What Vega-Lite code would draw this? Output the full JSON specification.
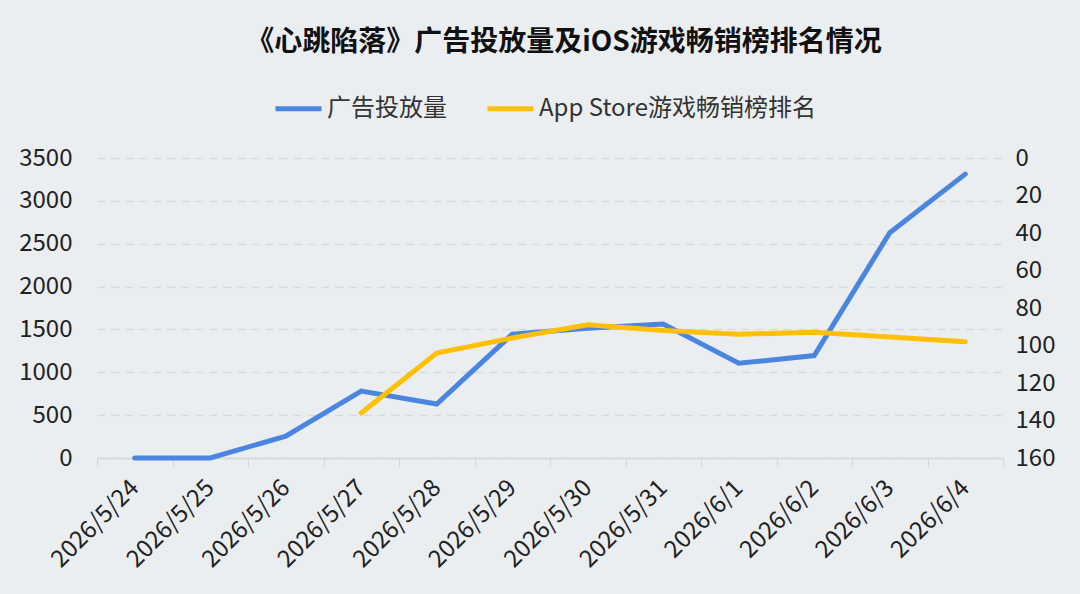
{
  "$schema": "https://vega.github.io/schema/vega-lite/v6.json",
  "width": 906,
  "height": 300,
  "autosize": {"type": "none"},
  "padding": {"left": 97, "top": 158, "right": 77, "bottom": 136},
  "background": "#EBEEF1",
  "title": {
    "text": "《心跳陷落》广告投放量及iOS游戏畅销榜排名情况",
    "font": "Noto Sans CJK SC",
    "fontSize": 28,
    "fontWeight": "bold",
    "color": "#111111",
    "anchor": "middle",
    "dx": 14,
    "offset": 26
  },
  "data": {
    "values": [
      {"date": "2026/5/24", "series": "广告投放量", "value": 0},
      {"date": "2026/5/25", "series": "广告投放量", "value": 0},
      {"date": "2026/5/26", "series": "广告投放量", "value": 255},
      {"date": "2026/5/27", "series": "广告投放量", "value": 780},
      {"date": "2026/5/28", "series": "广告投放量", "value": 630},
      {"date": "2026/5/29", "series": "广告投放量", "value": 1445},
      {"date": "2026/5/30", "series": "广告投放量", "value": 1515},
      {"date": "2026/5/31", "series": "广告投放量", "value": 1562},
      {"date": "2026/6/1", "series": "广告投放量", "value": 1105},
      {"date": "2026/6/2", "series": "广告投放量", "value": 1195},
      {"date": "2026/6/3", "series": "广告投放量", "value": 2628},
      {"date": "2026/6/4", "series": "广告投放量", "value": 3312},
      {"date": "2026/5/27", "series": "App Store游戏畅销榜排名", "value": 136},
      {"date": "2026/5/28", "series": "App Store游戏畅销榜排名", "value": 104},
      {"date": "2026/5/29", "series": "App Store游戏畅销榜排名", "value": 96},
      {"date": "2026/5/30", "series": "App Store游戏畅销榜排名", "value": 89},
      {"date": "2026/5/31", "series": "App Store游戏畅销榜排名", "value": 92},
      {"date": "2026/6/1", "series": "App Store游戏畅销榜排名", "value": 94},
      {"date": "2026/6/2", "series": "App Store游戏畅销榜排名", "value": 93},
      {"date": "2026/6/3", "series": "App Store游戏畅销榜排名", "value": 95.5},
      {"date": "2026/6/4", "series": "App Store游戏畅销榜排名", "value": 98}
    ]
  },
  "encoding": {
    "x": {
      "field": "date",
      "type": "ordinal",
      "sort": null,
      "scale": {"type": "band", "paddingInner": 0, "paddingOuter": 0},
      "axis": {
        "title": null,
        "tickBand": "extent",
        "labelAngle": -45,
        "labelAlign": "right",
        "labelBaseline": "middle",
        "labelFontSize": 24,
        "labelFont": "Noto Sans CJK SC",
        "labelColor": "#222222",
        "labelPadding": 18,
        "tickSize": 8,
        "tickColor": "#D6D6D6",
        "domainColor": "#D6D6D6",
        "domainWidth": 1.5,
        "grid": false
      }
    },
    "color": {
      "field": "series",
      "type": "nominal",
      "scale": {
        "domain": ["广告投放量", "App Store游戏畅销榜排名"],
        "range": ["#4A86E0", "#FFC000"]
      },
      "legend": {
        "title": null,
        "orient": "none",
        "direction": "horizontal",
        "legendX": 176,
        "legendY": -75,
        "symbolType": "stroke",
        "symbolStrokeWidth": 5,
        "symbolSize": 2116,
        "labelFontSize": 24,
        "labelFont": "Noto Sans CJK SC",
        "labelColor": "#333333",
        "labelOffset": 3,
        "labelLimit": 400,
        "columnPadding": 30
      }
    }
  },
  "layer": [
    {
      "transform": [{"filter": "datum.series == '广告投放量'"}],
      "mark": {"type": "line", "strokeWidth": 5, "strokeCap": "round"},
      "encoding": {
        "y": {
          "field": "value",
          "type": "quantitative",
          "scale": {"domain": [0, 3500], "nice": false},
          "axis": {
            "title": null,
            "values": [0, 500, 1000, 1500, 2000, 2500, 3000, 3500],
            "format": "d",
            "labelFontSize": 24,
            "labelFont": "Noto Sans CJK SC",
            "labelColor": "#222222",
            "labelPadding": 25,
            "domain": false,
            "ticks": false,
            "grid": true,
            "gridColor": "#D9D9D9",
            "gridDash": [8, 6],
            "gridWidth": 1.5
          }
        }
      }
    },
    {
      "transform": [{"filter": "datum.series == 'App Store游戏畅销榜排名'"}],
      "mark": {"type": "line", "strokeWidth": 5, "strokeCap": "round"},
      "encoding": {
        "y": {
          "field": "value",
          "type": "quantitative",
          "scale": {"domain": [0, 160], "reverse": true, "nice": false},
          "axis": {
            "title": null,
            "orient": "right",
            "values": [0, 20, 40, 60, 80, 100, 120, 140, 160],
            "labelFontSize": 24,
            "labelFont": "Noto Sans CJK SC",
            "labelColor": "#222222",
            "labelPadding": 12,
            "domain": false,
            "ticks": false,
            "grid": false
          }
        }
      }
    }
  ],
  "resolve": {"scale": {"y": "independent"}},
  "config": {"view": {"stroke": null}}
}
